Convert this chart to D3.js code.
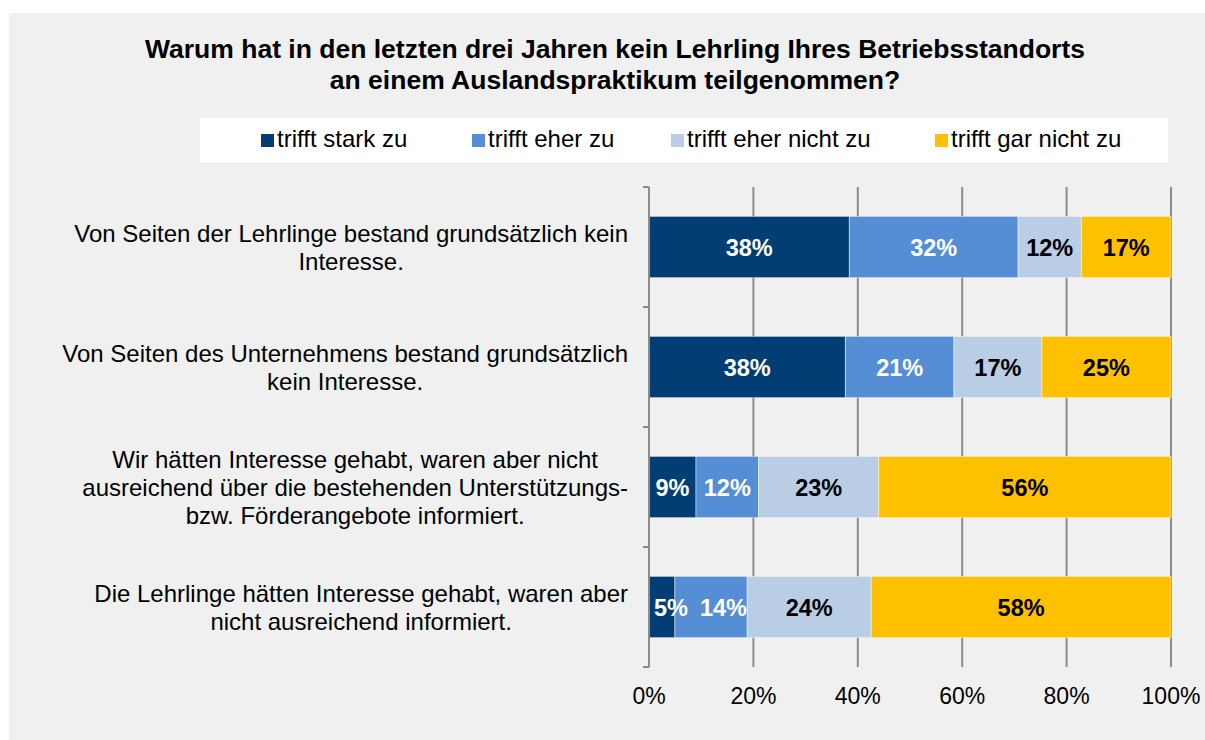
<!DOCTYPE html>
<html>
<head>
<meta charset="utf-8">
<script src="https://cdn.jsdelivr.net/npm/d3@7"></script>
<style>
  body { margin: 0; background: #fff; }
  text { font-family: "Liberation Sans", Arial, sans-serif; }
</style>
</head>
<body>
<script>
var width = 1205
var height = 740

// data
var titleLines = ['Warum hat in den letzten drei Jahren kein Lehrling Ihres Betriebsstandorts',
                  'an einem Auslandspraktikum teilgenommen?']
var series = ['trifft stark zu', 'trifft eher zu', 'trifft eher nicht zu', 'trifft gar nicht zu']
var colors = ['#023e73', '#558ed5', '#b9cde5', '#ffc000']
var labelColors = ['#fff', '#fff', '#000', '#000']
var categories = [
  ['Von Seiten der Lehrlinge bestand grundsätzlich kein', 'Interesse.'],
  ['Von Seiten des Unternehmens bestand grundsätzlich', 'kein Interesse.'],
  ['Wir hätten Interesse gehabt, waren aber nicht', 'ausreichend über die bestehenden Unterstützungs-', 'bzw. Förderangebote informiert.'],
  ['Die Lehrlinge hätten Interesse gehabt, waren aber', 'nicht ausreichend informiert.']
]
var starkZu = [38, 38, 9, 5]
var eherZu = [32, 21, 12, 14]
var eherNicht = [12, 17, 23, 24]
var garNicht = [17, 25, 56, 58]
var ticks = [0, 0.2, 0.4, 0.6, 0.8, 1]

var rows = categories.map(function(c, i) {
  return {i: i, 0: starkZu[i], 1: eherZu[i], 2: eherNicht[i], 3: garNicht[i]}
})

var svg = d3.select('body')
      .append('svg')
      .attr('width', width)
      .attr('height', height)

svg.append('rect')
      .attr('x', 9)
      .attr('y', 13)
      .attr('width', width - 9)
      .attr('height', height - 13)
      .attr('fill', '#f0f0f0')

// title
svg.append('g')
    .selectAll('text')
    .data(titleLines)
    .enter()
    .append('text')
      .attr('x', 615)
      .attr('y', function(d, i) { return 58 + i * 31 })
      .attr('text-anchor', 'middle')
      .attr('font-size', 26.5)
      .attr('font-weight', 'bold')
      .attr('fill', '#000')
      .text(function(d) { return d })

// legend
svg.append('rect')
    .attr('x', 200)
    .attr('y', 118)
    .attr('width', 968)
    .attr('height', 45)
    .attr('fill', '#fff')

var legendX = [261, 472, 671, 935]
var legend = svg.append('g')
    .selectAll('g')
    .data(series)
    .enter()
    .append('g')
      .attr('transform', function(d, i) { return 'translate(' + legendX[i] + ',0)' })
legend.append('rect')
    .attr('y', 134)
    .attr('width', 13)
    .attr('height', 13)
    .attr('fill', function(d, i) { return colors[i] })
legend.append('text')
    .attr('x', 16)
    .attr('y', 147)
    .attr('font-size', 24)
    .attr('fill', '#000')
    .text(function(d) { return d })

// scales
var x = d3.scaleLinear().domain([0, 1]).range([649, 1171])
var y = d3.scaleBand().domain(d3.range(categories.length)).range([187, 667]).paddingInner(0.49).paddingOuter(0.245)

var stack = d3.stack().keys([0, 1, 2, 3]).offset(d3.stackOffsetExpand)
var stacked = stack(rows)

// gridlines
svg.append('g')
    .selectAll('line')
    .data(ticks.slice(1))
    .enter()
    .append('line')
      .attr('x1', function(d) { return x(d) })
      .attr('x2', function(d) { return x(d) })
      .attr('y1', 187)
      .attr('y2', 667)
      .attr('stroke', '#8c8c8c')
      .attr('stroke-width', 2)

// bars
var layers = svg.append('g')
    .selectAll('g')
    .data(stacked)
    .enter()
    .append('g')
      .attr('fill', function(d, i) { return colors[i] })

layers.selectAll('rect')
    .data(function(d) { return d })
    .enter()
    .append('rect')
      .attr('x', function(d) { return x(d[0]) })
      .attr('width', function(d) { return x(d[1]) - x(d[0]) })
      .attr('y', function(d) { return y(d.data.i) })
      .attr('height', y.bandwidth())
      .attr('stroke', 'rgba(255,255,255,0.45)')
      .attr('stroke-width', 1)

// value labels drawn over all bars; nudged like Excel so they stay inside the plot and don't overlap
var labelG = svg.append('g')
rows.forEach(function(r, i) {
  var prevRight = x(0)
  for (var k = 0; k < series.length; k++) {
    var seg = stacked[k][i]
    var t = labelG.append('text')
      .attr('y', y(i) + y.bandwidth() / 2 + 8.5)
      .attr('text-anchor', 'middle')
      .attr('font-size', 23.5)
      .attr('font-weight', 'bold')
      .attr('fill', labelColors[k])
      .text(r[k] + '%')
    var w = t.node().getComputedTextLength()
    var left = Math.max((x(seg[0]) + x(seg[1])) / 2 - w / 2, prevRight + (k ? 12 : 5))
    t.attr('x', left + w / 2)
    prevRight = left + w
  }
})

// y axis line and ticks
var axisG = svg.append('g').attr('stroke', '#8c8c8c').attr('stroke-width', 2)
axisG.append('line')
    .attr('x1', 649).attr('x2', 649)
    .attr('y1', 187).attr('y2', 667)
axisG.selectAll('.tk')
    .data(d3.range(categories.length + 1))
    .enter()
    .append('line')
      .attr('x1', 643).attr('x2', 649)
      .attr('y1', function(d) { return 187 + d * (667 - 187) / categories.length })
      .attr('y2', function(d) { return 187 + d * (667 - 187) / categories.length })

// x tick labels
svg.append('g')
    .selectAll('text')
    .data(ticks)
    .enter()
    .append('text')
      .attr('x', function(d) { return x(d) })
      .attr('y', 704)
      .attr('text-anchor', 'middle')
      .attr('font-size', 23)
      .attr('fill', '#000')
      .text(function(d) { return Math.round(d * 100) + '%' })

// category labels: centred block, right edge at 628
var catG = svg.append('g')
categories.forEach(function(lines, i) {
  var g = catG.append('g')
  var cy = y(i) + y.bandwidth() / 2
  var texts = g.selectAll('text')
    .data(lines)
    .enter()
    .append('text')
      .attr('y', function(d, j) { return cy + 8.5 + (j - (lines.length - 1) / 2) * 28 })
      .attr('text-anchor', 'middle')
      .attr('font-size', 24)
      .attr('fill', '#000')
      .text(function(d) { return d })
  var maxW = d3.max(texts.nodes(), function(n) { return n.getComputedTextLength() })
  texts.attr('x', 628 - maxW / 2)
})
</script>
</body>
</html>
